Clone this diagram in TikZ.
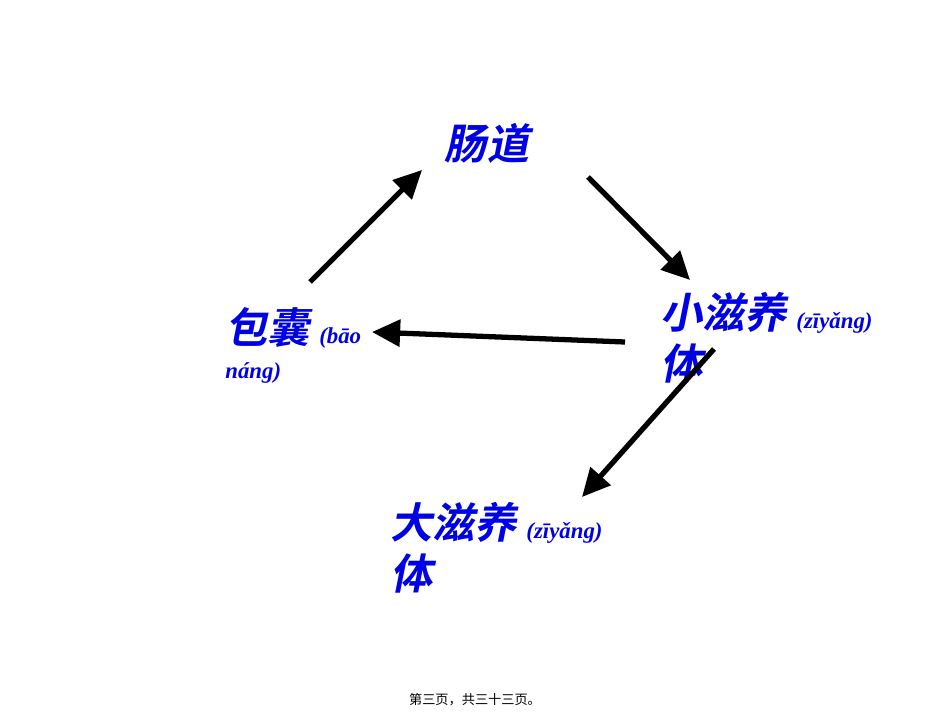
\documentclass[tikz,border=0pt]{standalone}
\usepackage{fontspec}
\usetikzlibrary{positioning}
\usetikzlibrary{arrows.meta}
\newfontfamily\cjk[FakeSlant=0.2]{Noto Sans CJK SC Bold}
\newfontfamily\cjkfoot{Noto Sans CJK SC}
\setmainfont{Liberation Serif}
\newcommand\pyfont{\rmfamily\bfseries\itshape\fontsize{13}{13}\selectfont}
\colorlet{labelc}{blue!90!black}

\begin{document}
\begin{tikzpicture}[x=0.02cm,y=-0.02cm,
        stagebox/.style={anchor=north west,inner sep=0pt,align=left,text=labelc,font=\cjk\fontsize{24}{29}\selectfont},
        cycarrow/.style={line width=3pt,-{Triangle[length=16pt,width=15pt]}}]
        \useasboundingbox (0,0) rectangle (950,713);

        \node[stagebox,anchor=center] (gut) at (487,143) {肠道};
        \node[stagebox] (small) at (660,292) {小滋养 {\pyfont (zīyǎng)}\\体};
        \node[stagebox] (cyst) at (225,307) {包囊 {\pyfont (bāo}\\[-9pt]{\pyfont náng)}};
        \node[stagebox] (large) at (390,502) {大滋养 {\pyfont (zīyǎng)}\\体};
        \node[font=\cjkfoot\fontsize{7.5}{8}\selectfont] (foot) at (475,700) {第三页，共三十三页。};

        \coordinate (a1) at (310,282); \coordinate (a2) at (422,170);
        \coordinate (b1) at (588,177); \coordinate (b2) at (690,280);
        \coordinate (c1) at (625,342); \coordinate (c2) at (372,332);
        \coordinate (d1) at (714,349); \coordinate (d2) at (582,497);

        \draw[cycarrow] (a1) -- (a2);
        \draw[cycarrow] (b1) -- (b2);
        \draw[cycarrow] (c1) -- (c2);
        \draw[cycarrow] (d1) -- (d2);

        \end{tikzpicture}
\end{document}
